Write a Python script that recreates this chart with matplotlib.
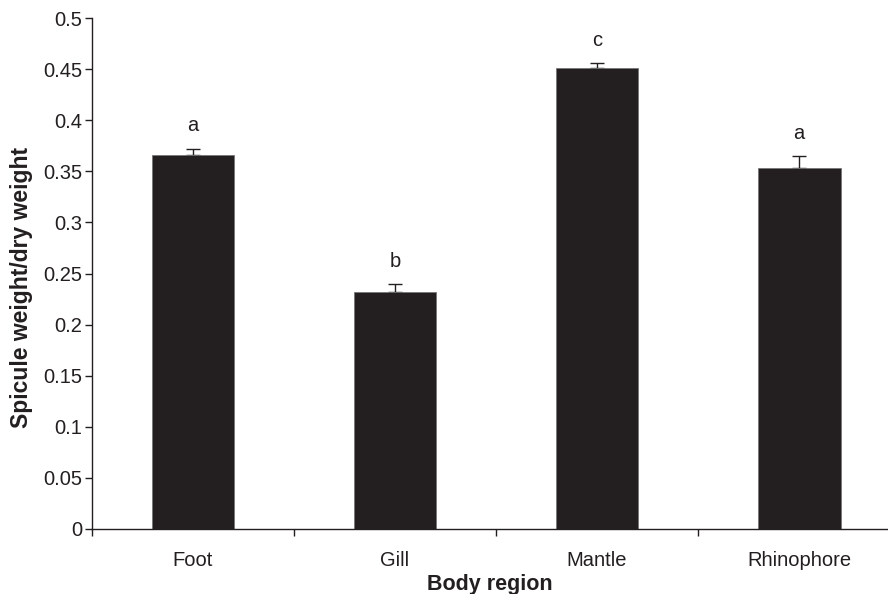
import matplotlib.pyplot as plt
from matplotlib.ticker import FixedLocator

regions = ["Foot", "Gill", "Mantle", "Rhinophore"]
ratio = [0.366, 0.232, 0.451, 0.353]
err = [0.006, 0.008, 0.005, 0.012]
letters = ["a", "b", "c", "a"]
letter_y = [0.395, 0.262, 0.478, 0.387]

plt.rcParams['font.family'] = ['Liberation Sans', 'DejaVu Sans']
dark = '#231f20'
fs = 14.5

fig = plt.figure(figsize=(8.88, 5.94), dpi=100)
ax = fig.add_axes([92 / 888, 65 / 594, 1 - 92 / 888, (529 - 18) / 594])

x = range(len(regions))
ax.errorbar(x, ratio, yerr=[[0] * len(err), err], fmt='none',
            ecolor=dark, elinewidth=1, capsize=5, capthick=1, zorder=1)
ax.bar(x, ratio, width=0.41, color=dark, edgecolor='#777777', linewidth=0.6, zorder=2)
for i, s in enumerate(letters):
    ax.text(i, letter_y[i], s, ha='center', va='center', fontsize=fs, color=dark)

ax.set_xlim(-0.5, 3.44)
ax.set_ylim(0, 0.5)
ax.set_yticks([i * 0.05 for i in range(11)])
ax.set_yticklabels(['0', '0.05', '0.1', '0.15', '0.2', '0.25', '0.3',
                    '0.35', '0.4', '0.45', '0.5'])
ax.set_xticks(list(x))
ax.set_xticklabels(regions)
ax.xaxis.set_minor_locator(FixedLocator([-0.5, 0.5, 1.5, 2.5]))
ax.tick_params(axis='x', which='major', length=0, pad=16, labelsize=fs, colors=dark)
ax.tick_params(axis='x', which='minor', length=5, width=1, color=dark)
ax.tick_params(axis='y', length=5, width=1, labelsize=fs, colors=dark, pad=2)

for side in ['top', 'right']:
    ax.spines[side].set_visible(False)
for side in ['left', 'bottom']:
    ax.spines[side].set_color(dark)
    ax.spines[side].set_linewidth(1)

ax.set_xlabel('Body region', fontsize=15.5, fontweight='bold', labelpad=3, color=dark)
fig.text(22 / 888, 1 - 287 / 594, 'Spicule weight/dry weight', rotation=90,
         ha='center', va='center', fontsize=16.5, fontweight='bold', color=dark)

fig.savefig('out.png', dpi=100)
